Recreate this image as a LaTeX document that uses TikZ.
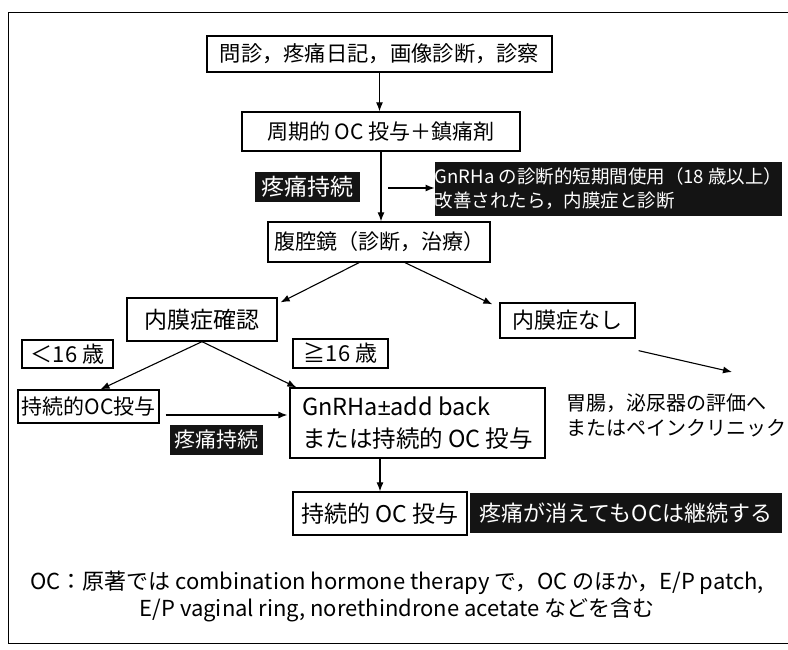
\documentclass[tikz,border=0pt]{standalone}
\usepackage{fontspec}
\setmainfont{Noto Sans CJK JP}
\newfontfamily\symfont{Liberation Sans}
\usetikzlibrary{arrows.meta}
\begin{document}
\begin{tikzpicture}[x=1pt,y=-1pt,
  box/.style={draw, line width=1.3pt, inner sep=0pt, align=center},
  blk/.style={fill=black!92, text=white, inner sep=0pt, align=left},
  arr/.style={line width=1.1pt, -{Latex[length=9pt,width=7pt]}},
  fs/.style 2 args={font=\fontsize{#1}{#2}\selectfont}
]
\useasboundingbox (0,0) rectangle (788,649);
\draw[line width=1pt] (788,12) -- (8,12) -- (8,643) -- (788,643);

\node[box, minimum width=345pt, minimum height=36pt, fs={21.3}{26}] (n1) at (379.5,54) {問診，疼痛日記，画像診断，診察};
\node[box, minimum width=278pt, minimum height=39pt, fs={21}{26}] (n2) at (381,131.5) {周期的 OC 投与＋鎮痛剤};
\node[blk, minimum width=105pt, minimum height=30pt, align=center, fs={23}{26}] (p1) at (307.5,187) {疼痛持続};
\node[blk, minimum width=347pt, minimum height=54pt, fs={18.5}{24}] (g1) at (608.5,189) {GnRHa の診断的短期間使用（18 歳以上）\\改善されたら，内膜症と診断};
\node[box, minimum width=222pt, minimum height=40pt, fs={21}{26}] (n3) at (379,242) {腹腔鏡（診断，治療）};

\draw[arr] (n1.south) -- (n1.south |- n2.north);
\draw[arr] (n2.south) -- (n2.south |- n3.north);
\coordinate (h0) at (388,188);
\draw[arr] (h0) -- (g1.west |- h0);

\node[box, minimum width=150pt, minimum height=43pt, fs={23}{26}] (n4) at (202,319.5) {内膜症確認};
\node[box, minimum width=135pt, minimum height=35pt, fs={22}{26}] (n5) at (567.5,320.5) {内膜症なし};
\draw[arr] ([xshift=-20pt]n3.south) -- ([xshift=3pt,yshift=-5pt]n4.north east);
\draw[arr] ([xshift=26pt]n3.south) -- ([xshift=-7pt,yshift=-2pt]n5.north west);

\node[box, minimum width=91pt, minimum height=28pt, fs={22}{26}] (a1) at (67.5,354) {＜16 歳};
\node[box, minimum width=95pt, minimum height=29pt, fs={22}{26}] (a2) at (340.5,353.5) {≧16 歳};
\node[box, minimum width=141pt, minimum height=33pt, fs={21}{26}] (n6) at (88.5,406.5) {持続的OC投与};
\node[box, minimum width=255pt, minimum height=70pt, align=left, fs={23.5}{32}] (n7) at (417.5,423) {GnRHa{\symfont±}add back\\または持続的 OC 投与};

\draw[arr] (n4.south) -- ([xshift=12pt]n6.north);
\draw[arr] (n4.south) -- ([xshift=7pt]n7.north west);
\path ([yshift=-8.5pt]n6.east) coordinate (s6);
\draw[arr, shorten >=2pt] ([xshift=6pt]s6) -- (s6 -| n7.west);

\node[blk, minimum width=93pt, minimum height=30pt, align=center, fs={21}{26}] (p2) at (216.5,440) {疼痛持続};
\node[box, minimum width=174pt, minimum height=43pt, fs={23}{26}] (n8) at (380,513.5) {持続的 OC 投与};
\draw[arr] (n8.north |- n7.south) -- (n8.north);
\node[blk, minimum width=312pt, minimum height=40pt, align=center, fs={22}{26}] (b3) at (626,513) {疼痛が消えてもOCは継続する};

\node[anchor=west, align=left, inner sep=0pt, fs={20}{25}] (ev) at (566,415) {胃腸，泌尿器の評価へ\\またはペインクリニック};
\coordinate (c5) at (732,372);
\draw[arr] ([xshift=3pt,yshift=-12pt]n5.south east) -- (c5);

\node[fs={22}{27}, align=center, inner sep=0pt] (note) at (397,596) {OC：原著では combination hormone therapy で，OC のほか，E/P patch,\\E/P vaginal ring, norethindrone acetate などを含む};
\end{tikzpicture}
\end{document}
